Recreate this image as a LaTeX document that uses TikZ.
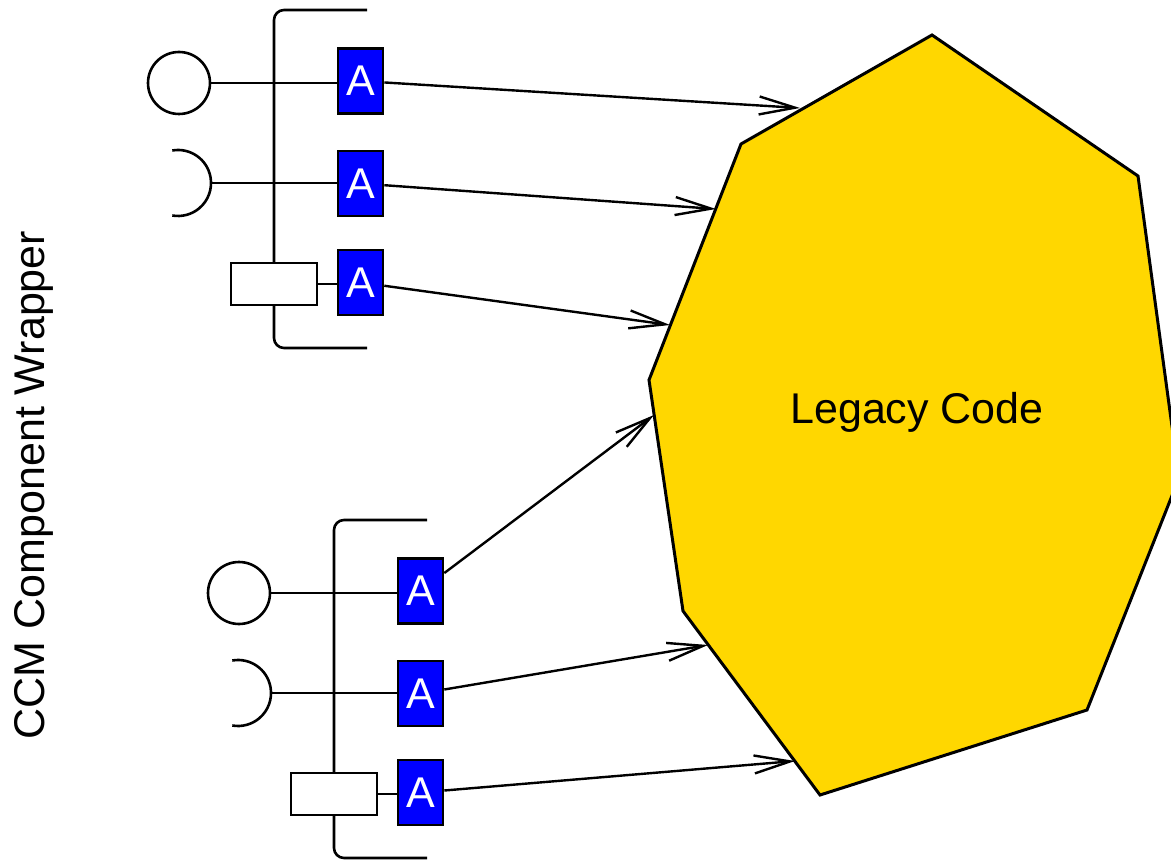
\documentclass[tikz,border=0pt]{standalone}
\usepackage{fontspec}
\setmainfont{Liberation Sans}
\usetikzlibrary{arrows.meta}
\definecolor{legacygold}{RGB}{255,215,0}
\tikzset{every node/.style={font=\fontsize{21.5}{24}\selectfont}}

\begin{document}
\begin{tikzpicture}[x=0.5pt, y=-0.5pt, line width=1.3pt,
    adapter/.style={draw, fill=blue, text=white, minimum width=22.5pt, minimum height=32.5pt, inner sep=0pt},
    port/.style={draw, circle, minimum size=31pt, inner sep=0pt},
    attr/.style={draw, fill=white, minimum width=43pt, minimum height=21pt, inner sep=0pt},
    call/.style={line width=1.2pt, -{Straight Barb[length=18pt, width=9pt]}}]
    \useasboundingbox (0,0) rectangle (1171,860);
    \clip (0,0) rectangle (1171,860);
    % the legacy code blob
    \draw[line width=1.5pt, fill=legacygold] (932,35) -- (1138,176) -- (1179,478) -- (1087,710)
      -- (820,795) -- (683,611) -- (649,380) -- (741,144) -- cycle;
    \node (legacy) at (917,412) {Legacy Code};
    \node[rotate=90] (wrapper) at (34,485) {CCM Component Wrapper};
    % two wrapped components
    \foreach \g/\dx/\dy in {t/0/0, b/60/510}
    {
      \begin{scope}[shift={(\dx,\dy)}]
        \draw[rounded corners=5pt] (367,10) -- (274,10) -- (274,348) -- (367,348);
        \node[port] (port\g) at (179,83) {};
        \draw (172.3,150.5) arc[start angle=-100, end angle=100, radius=33];
        \coordinate (sock\g) at (211,183);
        \node[attr] (attr\g) at (274,284) {};
        \node[adapter] (A1\g) at (360.5,81) {A};
        \node[adapter] (A2\g) at (360.5,183.5) {A};
        \node[adapter] (A3\g) at (360.5,282.5) {A};
        \draw (port\g) -- (port\g -| A1\g.west);
        \draw (sock\g) -- (sock\g -| A2\g.west);
        \draw (attr\g) -- (attr\g -| A3\g.west);
      \end{scope}
    }
    % calls into the legacy code
    \coordinate (tip1) at (800,108);
    \coordinate (tip2) at (716,209);
    \coordinate (tip3) at (670,325);
    \coordinate (tip4) at (654,415);
    \coordinate (tip5) at (708,645);
    \coordinate (tip6) at (795,761);
    \draw[call] (A1t) -- (tip1);
    \draw[call] (A2t) -- (tip2);
    \draw[call] (A3t) -- (tip3);
    \draw[call] (A1b) -- (tip4);
    \draw[call] (A2b) -- (tip5);
    \draw[call] (A3b) -- (tip6);
\end{tikzpicture}
\end{document}
